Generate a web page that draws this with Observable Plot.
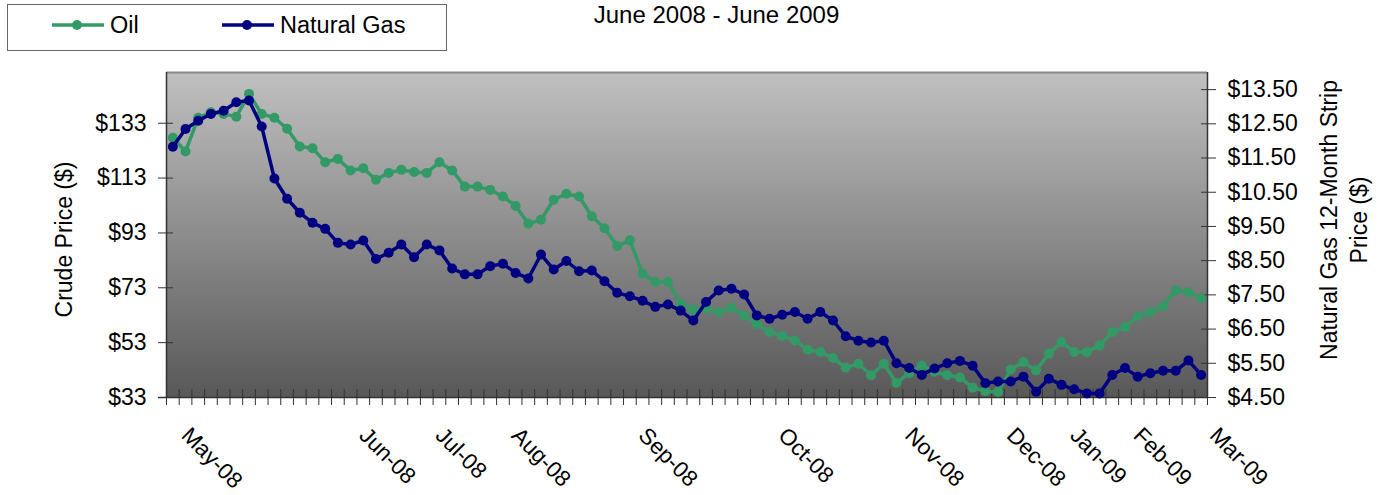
<!DOCTYPE html>
<html><head><meta charset="utf-8">
<script src="https://cdn.jsdelivr.net/npm/d3@7"></script>
<script src="https://cdn.jsdelivr.net/npm/@observablehq/plot@0.6"></script>
<style>
body{margin:0;background:#fff;font-family:"Liberation Sans",Arial,sans-serif;}
#wrap{position:relative;width:1383px;height:495px;overflow:hidden;}
#chart{position:absolute;left:0;top:0;}
#overlay{position:absolute;left:0;top:0;}
</style></head><body>
<div id="wrap"><div id="chart"></div><svg id="overlay" width="1383" height="60"></svg></div>
<script>
// ---- data ----
const oil = [127.7,122.7,135.0,137.0,136.4,135.4,143.7,136.4,135.0,131.0,
  124.5,123.9,118.8,120.0,115.8,116.6,112.4,114.9,116.0,115.2,
  114.9,118.8,115.8,109.9,109.9,108.7,106.3,102.8,96.4,97.8,
  105.1,107.3,106.3,99.1,94.7,88.2,90.3,78.1,75.1,75.1,
  67.2,65.0,65.4,64.1,65.7,62.9,59.7,56.9,55.4,53.8,
  50.4,49.6,47.4,43.9,45.3,41.1,45.3,38.3,41.9,44.7,
  42.4,41.1,40.3,36.6,35.3,35.0,43.2,45.9,42.9,49.0,
  53.2,49.6,49.6,52.0,56.9,58.7,62.6,64.1,66.2,72.1,
  71.4,69.2];
const gas = [11.83,12.35,12.59,12.79,12.88,13.13,13.18,12.42,10.90,10.31,
  9.90,9.61,9.43,9.02,8.97,9.09,8.55,8.73,8.97,8.60,
  8.97,8.80,8.27,8.10,8.10,8.34,8.41,8.14,7.98,8.68,
  8.24,8.49,8.19,8.21,7.90,7.56,7.46,7.33,7.15,7.22,
  7.04,6.75,7.29,7.63,7.68,7.51,6.90,6.80,6.92,7.00,
  6.80,7.00,6.75,6.29,6.16,6.11,6.16,5.50,5.36,5.16,
  5.35,5.50,5.57,5.43,4.92,4.97,4.97,5.11,4.67,5.05,
  4.87,4.74,4.62,4.62,5.16,5.36,5.11,5.21,5.28,5.28,
  5.58,5.16];
const oilTicks = [33, 53, 73, 93, 113, 133];
const gasTicks = [4.5, 5.5, 6.5, 7.5, 8.5, 9.5, 10.5, 11.5, 12.5, 13.5];
const monthLabels = ["May-08","Jun-08","Jul-08","Aug-08","Sep-08","Oct-08","Nov-08","Dec-08","Jan-09","Feb-09","Mar-09"];
const monthPositions = [2, 16, 22, 28, 38, 49, 59, 67, 72, 77, 83];
const seriesNames = ["Oil", "Natural Gas"];
const seriesColors = ["#339966", "#000080"];
const titleText = "June 2008 - June 2009";
const leftTitle = "Crude Price ($)";
const rightTitle = "Natural Gas 12-Month Strip\nPrice ($)";

// ---- scales ----
const oilDomain = [33, 151.5];
const gasDomain = [4.5, 14];
const k = (oilDomain[1] - oilDomain[0]) / (gasDomain[1] - gasDomain[0]);
const toLeft = g => oilDomain[0] + (g - gasDomain[0]) * k;
const fromLeft = v => gasDomain[0] + (v - oilDomain[0]) / k;

const rows = oil.map((v, i) => ({w: i + 1, oil: v, gas: toLeft(gas[i])}));
const boundaries = d3.range(0.5, rows.length + 1, 1);

const fs = 23;
const chart = Plot.plot({
  width: 1383, height: 495,
  marginLeft: 166, marginRight: 176, marginTop: 72, marginBottom: 98,
  style: {fontFamily: '"Liberation Sans", Arial, sans-serif', fontSize: fs + "px", color: "#000", background: "transparent"},
  x: {domain: [0.5, rows.length + 0.5], axis: null},
  y: {domain: oilDomain, axis: null},
  marks: [
    Plot.frame({fill: "url(#bg)"}),
    Plot.ruleY([oilDomain[1]], {stroke: "#888", strokeWidth: 2}),
    Plot.ruleX([0.5], {stroke: "#333", strokeWidth: 1.5}),
    Plot.ruleX([rows.length + 0.5], {stroke: "#333", strokeWidth: 1.5}),
    Plot.ruleY([oilDomain[0]], {stroke: "#333", strokeWidth: 1.5, insetLeft: -8}),
    Plot.axisX(boundaries, {anchor: "bottom", tickSize: 16, dy: -8, tickFormat: () => "", label: null, stroke: "#333"}),
    Plot.axisY(oilTicks, {anchor: "left", tickSize: 15, dx: 7, tickPadding: 12, tickFormat: d => "$" + d, label: null, stroke: "#333", fontSize: fs}),
    Plot.axisY(gasTicks.map(toLeft), {anchor: "right", tickSize: 15, dx: -7, tickPadding: 12, tickFormat: d => "$" + fromLeft(d).toFixed(2), label: null, stroke: "#333", fontSize: fs}),
    Plot.line(rows, {x: "w", y: "oil", stroke: seriesColors[0], strokeWidth: 3.5}),
    Plot.dot(rows, {x: "w", y: "oil", r: 5, fill: seriesColors[0]}),
    Plot.line(rows, {x: "w", y: "gas", stroke: seriesColors[1], strokeWidth: 3.5}),
    Plot.dot(rows, {x: "w", y: "gas", r: 5, fill: seriesColors[1]}),
    Plot.text(monthPositions, {x: d => d, text: (d, i) => monthLabels[i], frameAnchor: "bottom", rotate: 45, textAnchor: "start", lineAnchor: "top", dy: 28, dx: 6, fontSize: 22.5}),
    Plot.text([leftTitle], {frameAnchor: "left", textAnchor: "middle", lineAnchor: "middle", dx: -102, dy: 4.5, rotate: -90, fontSize: fs}),
    Plot.text([rightTitle], {frameAnchor: "right", textAnchor: "middle", lineAnchor: "middle", dx: 135, dy: -15, rotate: -90, lineHeight: 1.3, fontSize: fs})
  ]
});
document.getElementById("chart").appendChild(chart);

// gradient background for the plot area
const svg = d3.select(chart);
const grad = svg.insert("defs", ":first-child").append("linearGradient")
  .attr("id", "bg").attr("x1", 0).attr("y1", 0).attr("x2", 0).attr("y2", 1);
grad.append("stop").attr("offset", "0%").attr("stop-color", "#c0c0c0");
grad.append("stop").attr("offset", "100%").attr("stop-color", "#585858");

// title + legend overlay
const ov = d3.select("#overlay");
ov.append("text").attr("x", 716.5).attr("y", 23).attr("text-anchor", "middle")
  .attr("font-size", 24).attr("font-family", '"Liberation Sans", Arial, sans-serif').text(titleText);
ov.append("rect").attr("x", 7.5).attr("y", 4.5).attr("width", 439).attr("height", 46)
  .attr("fill", "#fff").attr("stroke", "#666").attr("stroke-width", 1);
const legendX = [52, 222];
seriesNames.forEach((name, i) => {
  const x0 = legendX[i];
  ov.append("line").attr("x1", x0).attr("x2", x0 + 52).attr("y1", 25).attr("y2", 25)
    .attr("stroke", seriesColors[i]).attr("stroke-width", 3.5);
  ov.append("circle").attr("cx", x0 + 25).attr("cy", 25).attr("r", 5).attr("fill", seriesColors[i]);
  ov.append("text").attr("x", x0 + 58).attr("y", 33).attr("font-size", 23.5)
    .attr("font-family", '"Liberation Sans", Arial, sans-serif').text(name);
});
</script>
</body></html>
